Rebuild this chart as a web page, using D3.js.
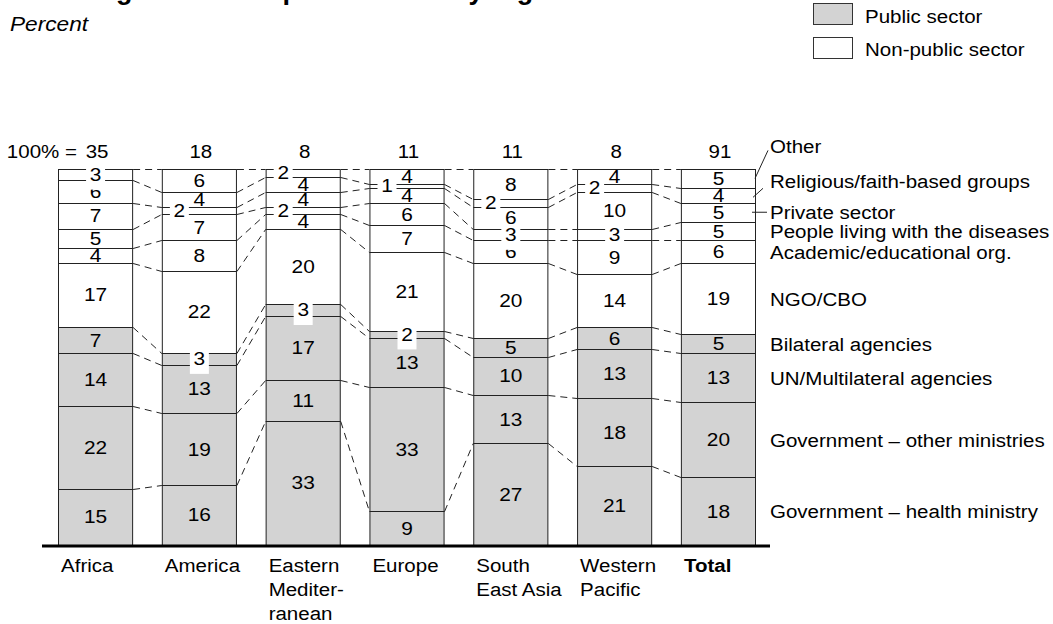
<!DOCTYPE html>
<html><head><meta charset="utf-8">
<script src="https://cdn.jsdelivr.net/npm/d3@7"></script>
<style>body{margin:0;background:#fff} svg{display:block} text{font-family:"Liberation Sans",Arial,Helvetica,sans-serif;fill:#000}</style>
</head><body><svg id="c" width="1053" height="624"></svg>
<script>
// ---- data ----
const regions = ["Africa","America","Eastern Mediterranean","Europe","South East Asia","Western Pacific","Total"];
const regionLines = [["Africa"],["America"],["Eastern","Mediter-","ranean"],["Europe"],["South","East Asia"],["Western","Pacific"],["Total"]];
const respondents = [35,18,8,11,11,8,91];
const groups = ["Government – health ministry","Government – other ministries","UN/Multilateral agencies","Bilateral agencies","NGO/CBO","Academic/educational org.","People living with the diseases","Private sector","Religious/faith-based groups","Other"];
const isPublic = [true,true,true,true,false,false,false,false,false,false];
const govHealth     = [15,16,33, 9,27,21,18];
const govOther      = [22,19,11,33,13,18,20];
const multilateral  = [14,13,17,13,10,13,13];
const bilateral     = [ 7, 3, 3, 2, 5, 6, 5];
const ngo           = [17,22,20,21,20,14,19];
const academic      = [ 4, 8, 4, 7, 6, 9, 6];
const plwd          = [ 5, 7, 2, 6, 3, 3, 5];
const privateSector = [ 7, 2, 4, 4, 6,10, 5];
const religious     = [ 6, 4, 4, 1, 2, 2, 4];
const other         = [ 3, 6, 2, 4, 8, 4, 5];
const legendLabels = ["Public sector","Non-public sector"];
const titleText = "Percentage of CCM representation by region";
const subtitleText = "Percent";

// ---- build ----
const series = [govHealth,govOther,multilateral,bilateral,ngo,academic,plwd,privateSector,religious,other];
const table = regions.map((r,i)=>{const o={region:r}; groups.forEach((g,k)=>o[g]=series[k][i]); return o;});
const stacked = d3.stack().keys(groups)(table);

const svg = d3.select("#c");
const GRAY = "#d3d3d3";
const FS_NUM = 18, FS_LAB = 19, SX = 1.08, SXN = 1.16;

// text helper: horizontally widened glyphs like the reference
function txt(parent, x, y, str, o={}){
  const g = parent.append("g").attr("transform",`translate(${x},${y}) scale(${o.sx||SX},1)`);
  const t = g.append("text").attr("x",0).attr("y",0).attr("font-size",o.fs||FS_LAB)
    .attr("text-anchor",o.anchor||"start");
  if(o.weight) t.attr("font-weight",o.weight);
  if(o.style) t.attr("font-style",o.style);
  if(str!==null) t.text(str);
  return t;
}

const x = d3.scaleBand().domain(regions).range([58,755]).paddingInner(0.286).paddingOuter(0);
const y = d3.scaleLinear().domain([0,100]).range([545,169]);
const bw = x.bandwidth();

// title (cropped by top edge, as in the reference) & subtitle
txt(svg, 2, -1, titleText, {fs:27, weight:"bold", sx:1});
txt(svg, 10, 31, subtitleText, {fs:21, style:"italic"});

// legend
const leg = svg.append("g");
legendLabels.forEach((l,i)=>{
  leg.append("rect").attr("x",813.5).attr("y",3.5+i*34).attr("width",39).attr("height",21)
    .attr("fill",i===0?GRAY:"#fff").attr("stroke","#333");
  txt(leg, 865, 23+i*33, l);
});

// segments
const segG = svg.append("g");
stacked.forEach((s,k)=>{
  segG.selectAll(null).data(s).enter().append("rect")
    .attr("x",d=>x(d.data.region)+0.5)
    .attr("y",d=>Math.round(y(d[1]))+0.5)
    .attr("width",bw)
    .attr("height",d=>Math.round(y(d[0]))-Math.round(y(d[1])))
    .attr("fill",isPublic[k]?GRAY:"#fff")
    .attr("stroke","#222").attr("stroke-width",1);
});

// dashed connectors between boundary levels
const conG = svg.append("g").attr("stroke","#222").attr("stroke-width",1).attr("stroke-dasharray","7,5").attr("fill","none");
stacked.forEach(s=>{
  for(let i=0;i<regions.length-1;i++){
    conG.append("line")
      .attr("x1",x(regions[i])+bw+1).attr("y1",Math.round(y(s[i][1]))+0.5)
      .attr("x2",x(regions[i+1])).attr("y2",Math.round(y(s[i+1][1]))+0.5);
  }
});

// baseline
svg.append("line").attr("x1",42).attr("x2",770).attr("y1",546).attr("y2",546).attr("stroke","#000").attr("stroke-width",3);

// segment labels
const labG = svg.append("g");
stacked.forEach((s,k)=>{
  s.forEach((d,i)=>{
    const v = d[1]-d[0];
    const cy = (y(d[0])+y(d[1]))/2;
    let cx = x(regions[i])+bw/2+0.5;
    if(v<=2 && !isPublic[k]) cx -= 20;
    if(v<=3){
      labG.append("rect").attr("x",cx-9.5).attr("y",cy-6).attr("width",19).attr("height",21).attr("fill","#fff");
    }
    txt(labG, cx, cy+FS_NUM*0.36, v, {fs:FS_NUM, anchor:"middle", sx:SXN});
  });
});

// totals on top
txt(svg, 77, 158, "100% =", {anchor:"end"});
regions.forEach((r,i)=>{
  txt(svg, x(r)+bw/2+2, 158, respondents[i], {anchor:"middle"});
});

// category labels
regions.forEach((r,i)=>{
  const t = txt(svg, x(r)+3, 572, null, {weight:r==="Total"?"bold":null});
  regionLines[i].forEach((ln,j)=>t.append("tspan").attr("x",0).attr("dy",j===0?0:24).text(ln));
});

// right-hand group labels (aligned with the Total column)
const last = regions.length-1;
const rightX = x(regions[last])+bw;
groups.forEach((g,k)=>{
  const d = stacked[k][last];
  const cy = (y(d[0])+y(d[1]))/2;
  let ty = cy;
  if(g==="Other") ty = cy-32;
  if(g==="Religious/faith-based groups") ty = cy-14;
  txt(svg, rightX+15, ty+FS_LAB*0.36, g);
  if(g==="Other") svg.append("line").attr("x1",rightX).attr("y1",cy).attr("x2",rightX+13).attr("y2",ty+4).attr("stroke","#222");
  if(g==="Religious/faith-based groups") svg.append("line").attr("x1",rightX-2).attr("y1",cy+2).attr("x2",rightX+8).attr("y2",ty+7).attr("stroke","#222");
  if(g==="Private sector") svg.append("line").attr("x1",rightX-3).attr("y1",cy).attr("x2",rightX+12).attr("y2",cy).attr("stroke","#222");
});
</script>
</body></html>
